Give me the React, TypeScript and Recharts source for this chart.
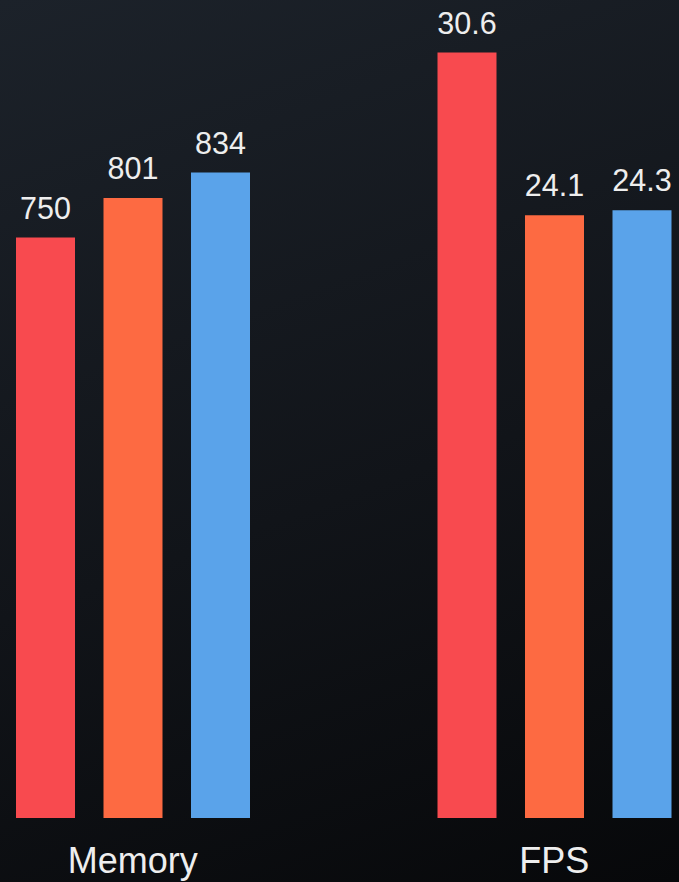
import { Bar, BarChart, LabelList, XAxis, YAxis } from 'recharts'

const metrics = ['Memory', 'FPS']
// every metric gets its own vertical scale in the picture
const metricScale = [1057, 32.7]
const seriesA = [750, 30.6]
const seriesB = [801, 24.1]
const seriesC = [834, 24.3]

const colors = ['#f84a4f', '#fd6a42', '#5aa3ea']

const data = metrics.map((metric, i) => ({
  metric,
  a: seriesA[i] / metricScale[i],
  b: seriesB[i] / metricScale[i],
  c: seriesC[i] / metricScale[i],
  aRaw: seriesA[i],
  bRaw: seriesB[i],
  cRaw: seriesC[i],
}))

const font = '"Liberation Sans", Arial, sans-serif'
const labelStyle = { fill: '#eeeeee', fontSize: 30.5, fontFamily: font }

export default function App() {
  return (
    <div
      style={{
        position: 'relative',
        width: 679,
        height: 882,
        overflow: 'hidden',
        background: 'linear-gradient(160deg, #1c222a 0%, #111419 55%, #07080a 100%)',
      }}
    >
      <style>{'body { margin: 0; }'}</style>
      <div style={{ position: 'absolute', left: -78, top: 0 }}>
        <BarChart
          width={843}
          height={882}
          data={data}
          margin={{ top: 0, right: 0, bottom: 0, left: 0 }}
          barSize={59}
          barGap={28.5}
        >
          <XAxis
            dataKey="metric"
            height={64}
            axisLine={false}
            tickLine={false}
            tickMargin={23}
            tick={{ fill: '#eeeeee', fontSize: 36, fontFamily: font }}
          />
          <YAxis hide domain={[0, 1]} />
          <Bar dataKey="a" fill={colors[0]} isAnimationActive={false}>
            <LabelList dataKey="aRaw" position="top" offset={19} style={labelStyle} />
          </Bar>
          <Bar dataKey="b" fill={colors[1]} isAnimationActive={false}>
            <LabelList dataKey="bRaw" position="top" offset={19} style={labelStyle} />
          </Bar>
          <Bar dataKey="c" fill={colors[2]} isAnimationActive={false}>
            <LabelList dataKey="cRaw" position="top" offset={19} style={labelStyle} />
          </Bar>
        </BarChart>
      </div>
    </div>
  )
}
